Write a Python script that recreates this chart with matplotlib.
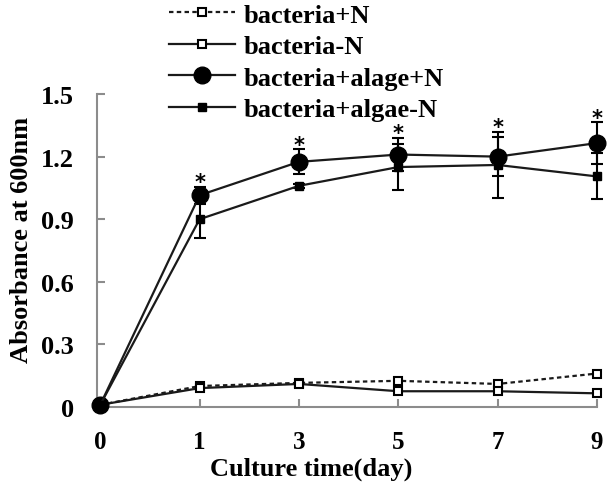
import numpy as np
import matplotlib
matplotlib.use("Agg")
import matplotlib.pyplot as plt

# datos
dias = ['0', '1', '3', '5', '7', '9']
bact_N = [0.01, 0.10, 0.115, 0.125, 0.11, 0.16]
bact_sinN = [0.01, 0.09, 0.11, 0.075, 0.075, 0.065]
bact_alga_N = [0.01, 1.015, 1.175, 1.21, 1.20, 1.265]
bact_alga_N_err = [0, 0.04, 0.06, 0.08, 0.095, 0.10]
bact_alga_sinN = [0.01, 0.90, 1.06, 1.15, 1.16, 1.105]
bact_alga_sinN_err = [0, 0.09, 0.01, 0.11, 0.16, 0.11]
signif = [False, True, True, True, True, True]

plt.rcParams['font.family'] = ['Liberation Serif', 'DejaVu Serif']
plt.rcParams['font.weight'] = 'bold'

x = np.arange(len(dias))
fig = plt.figure(figsize=(6.08, 4.85), dpi=100)
ax = fig.add_axes([0.16, 0.159, 0.822, 0.645])

lc = '#1a1a1a'
# barras de error
ax.errorbar(x, bact_alga_N, yerr=bact_alga_N_err, fmt='none', ecolor='black',
            elinewidth=1.5, capsize=4, capthick=1.5, clip_on=False, zorder=2)
ax.errorbar(x, bact_alga_sinN, yerr=bact_alga_sinN_err, fmt='none', ecolor='black',
            elinewidth=1.5, capsize=4, capthick=1.5, clip_on=False, zorder=2)

l1, = ax.plot(x, bact_N, linestyle=(0, (2, 1.5)), color=lc, lw=1.6, marker='s', ms=6,
              mfc='white', mec='black', mew=1.5, label='bacteria+N', clip_on=False, zorder=3)
l2, = ax.plot(x, bact_sinN, linestyle='-', color=lc, lw=1.6, marker='s', ms=6,
              mfc='white', mec='black', mew=1.5, label='bacteria-N', clip_on=False, zorder=3)
l3, = ax.plot(x, bact_alga_N, linestyle='-', color=lc, lw=1.6, marker='o', ms=12,
              mfc='black', mec='black', label='bacteria+alage+N', clip_on=False, zorder=4)
l4, = ax.plot(x, bact_alga_sinN, linestyle='-', color=lc, lw=1.6, marker='s', ms=6,
              mfc='black', mec='black', label='bacteria+algae-N', clip_on=False, zorder=4)

# asteriscos
for i in range(len(dias)):
    if signif[i]:
        top = max(bact_alga_N[i] + bact_alga_N_err[i], bact_alga_sinN[i] + bact_alga_sinN_err[i])
        ax.annotate('*', xy=(x[i], top), xytext=(0, -1), textcoords='offset points',
                    ha='center', va='baseline', fontsize=15, fontweight='bold',
                    family='DejaVu Sans', annotation_clip=False)

ax.set_xlim(-0.03, 5)
ax.set_ylim(0, 1.5)
ax.set_yticks([0, 0.3, 0.6, 0.9, 1.2, 1.5])
ax.set_yticklabels(['0', '0.3', '0.6', '0.9', '1.2', '1.5'])
ax.set_xticks(x)
ax.set_xticklabels(dias)

for s in ['top', 'right']:
    ax.spines[s].set_visible(False)
for s in ['left', 'bottom']:
    ax.spines[s].set_color('#8c8c8c')
    ax.spines[s].set_linewidth(1.5)
ax.tick_params(axis='both', direction='in', length=6, width=1.5, color='#8c8c8c')
ax.tick_params(axis='y', labelsize=19, pad=17)
ax.tick_params(axis='x', labelsize=18, pad=17)

ax.set_xlabel('Culture time(day)', fontsize=19, fontweight='bold')
ax.set_ylabel('Absorbance at 600nm', fontsize=19, fontweight='bold')
ax.xaxis.set_label_coords(0.428, -0.16)
ax.yaxis.set_label_coords(-0.128, 0.537)

fig.legend(handles=[l1, l2, l3, l4], loc='upper left', bbox_to_anchor=(0.26, 1.013),
           frameon=False, handlelength=2.5, handletextpad=0.35,
           labelspacing=0.3, borderaxespad=0, prop={'weight': 'bold', 'size': 19})

fig.savefig('out.png', dpi=100)
